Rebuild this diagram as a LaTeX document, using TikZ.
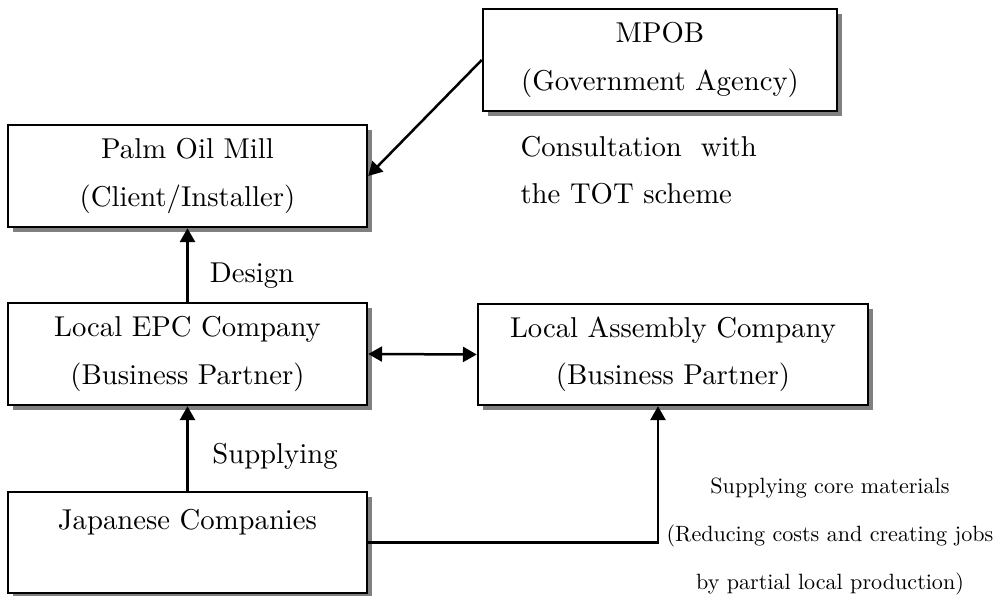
\documentclass[tikz,border=0pt]{standalone}
\usepackage{fontspec}
\usetikzlibrary{arrows.meta,shadows,calc}

% one drawing unit = one "pixel" of the layout grid
\newcommand{\pxu}{0.3484pt}
\newcommand{\mainfs}{\fontsize{10}{16.4}\selectfont}
% the side note is set at 10pt and shrunk as a whole
\newcommand{\notetext}[1]{\scalebox{0.77}{\fontsize{10}{21.5}\selectfont
  \begin{tabular}{@{}c@{}}#1\end{tabular}}}

\tikzset{
  orgbox/.style={draw=black, fill=white, line width=0.87pt, align=center,
    inner sep=0pt, font=\mainfs,
    drop shadow={shadow xshift=1.75pt, shadow yshift=-1.75pt, fill=gray, opacity=1}},
  tag/.style={inner sep=0pt, font=\mainfs},
  note/.style={inner sep=0pt},
  link/.style={line width=0.87pt, -{Triangle[length=4.8pt,width=5.2pt]}},
  twoway/.style={line width=0.87pt,
    {Triangle[length=4.8pt,width=5.2pt]}-{Triangle[length=4.8pt,width=5.2pt]}},
}

\begin{document}
\begin{tikzpicture}[x=\pxu, y=-\pxu]
  \useasboundingbox (0,0) rectangle (995,596);

  % organisations
  \node[orgbox, minimum width=354*\pxu, minimum height=102*\pxu] (mpob) at (660,60)
    {MPOB\\(Government Agency)};
  \node[orgbox, minimum width=359*\pxu, minimum height=102*\pxu] (palm) at (187.5,176)
    {Palm Oil Mill\\(Client/Installer)};
  \node[orgbox, minimum width=359*\pxu, minimum height=102*\pxu] (epc) at (187.5,354)
    {Local EPC Company\\(Business Partner)};
  \node[orgbox, minimum width=390*\pxu, minimum height=101*\pxu] (asm) at (673,354.5)
    {Local Assembly Company\\(Business Partner)};
  \node[orgbox, minimum width=359*\pxu, minimum height=101*\pxu] (jp) at (187.5,542.5)
    {Japanese Companies\\\mbox{}};

  % relations
  \draw[link] (mpob.west) -- (palm.east);
  \draw[link] (epc.north) -- (palm.south);
  \draw[twoway] (epc.east) -- (asm.west);
  \draw[link] (jp.north) -- (epc.south);
  \draw[link] (jp.east) -| ([xshift=-15*\pxu]asm.south);

  % captions
  \node[tag, anchor=west, align=left] (consult) at (520,170.5)
    {Consultation~~with\\the TOT scheme};
  \node[tag] (design) at (252,276) {Design};
  \node[tag] (supply) at (275,456) {Supplying};
  \node[note] (core) at (830,532)
    {\notetext{Supplying core materials\\(Reducing costs and creating jobs\\by partial local production)}};
\end{tikzpicture}
\end{document}
